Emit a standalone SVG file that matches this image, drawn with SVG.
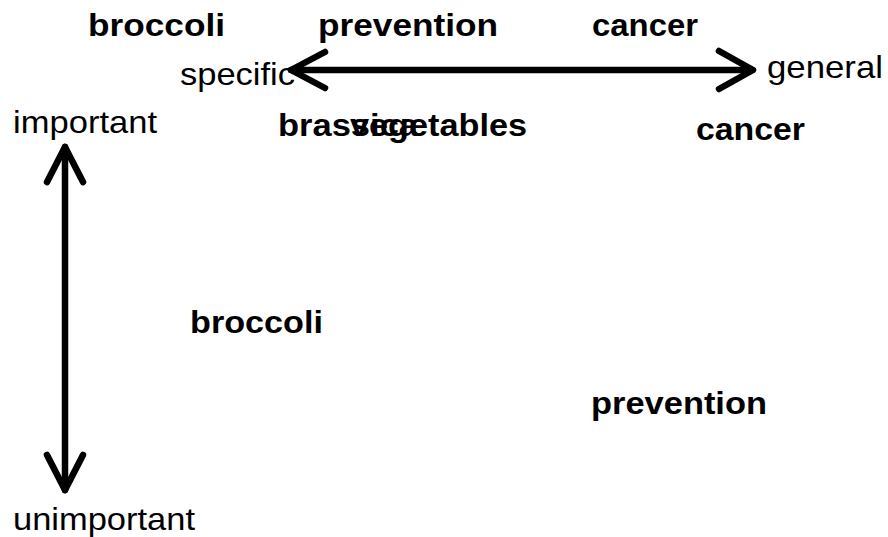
<svg xmlns="http://www.w3.org/2000/svg" width="888" height="537" viewBox="0 0 888 537">
  <style>
    .term { font-family: "Liberation Sans", Arial, sans-serif; font-size: 32px; font-weight: bold; fill: #000; }
    .axis { font-family: "Liberation Sans", Arial, sans-serif; font-size: 32px; fill: #000; }
    .arrow { fill: none; stroke: #000; stroke-width: 6.5; stroke-linecap: round; stroke-linejoin: round; }
  </style>
  <rect width="888" height="537" fill="#fff"/>

  <!-- axes -->
  <g id="connectors">
    <!-- specificity axis -->
    <path class="arrow" d="M291,70 H752"/>
    <path class="arrow" d="M325,52 L291,70 L325,88"/>
    <path class="arrow" d="M719,51 L753,70 L719,89"/>
    <!-- importance axis -->
    <path class="arrow" d="M65,147 V490"/>
    <path class="arrow" d="M47,182 L65,147 L83,182"/>
    <path class="arrow" d="M47,455 L65,490 L83,455"/>
  </g>

  <!-- axis labels -->
  <g id="label-specific"><text class="axis" x="180" y="85" textLength="115" lengthAdjust="spacingAndGlyphs">specific</text></g>
  <g id="label-general"><text class="axis" x="767" y="78" textLength="116" lengthAdjust="spacingAndGlyphs">general</text></g>
  <g id="label-important"><text class="axis" x="13" y="133" textLength="144" lengthAdjust="spacingAndGlyphs">important</text></g>
  <g id="label-unimportant"><text class="axis" x="13" y="530" textLength="182" lengthAdjust="spacingAndGlyphs">unimportant</text></g>

  <!-- terms along the specificity axis -->
  <g id="term-broccoli-top"><text class="term" x="88" y="36" textLength="137" lengthAdjust="spacingAndGlyphs">broccoli</text></g>
  <g id="term-prevention-top"><text class="term" x="318" y="36" textLength="180" lengthAdjust="spacingAndGlyphs">prevention</text></g>
  <g id="term-cancer-top"><text class="term" x="592" y="36" textLength="106" lengthAdjust="spacingAndGlyphs">cancer</text></g>

  <g id="term-brassica"><text class="term" x="278" y="136" textLength="140" lengthAdjust="spacingAndGlyphs">brassica</text></g>
  <g id="term-vegetables"><text class="term" x="350" y="136" textLength="177" lengthAdjust="spacingAndGlyphs">vegetables</text></g>
  <g id="term-cancer"><text class="term" x="696" y="140" textLength="109" lengthAdjust="spacingAndGlyphs">cancer</text></g>

  <!-- terms along the importance axis -->
  <g id="term-broccoli"><text class="term" x="190" y="333" textLength="133" lengthAdjust="spacingAndGlyphs">broccoli</text></g>
  <g id="term-prevention"><text class="term" x="591" y="414" textLength="176" lengthAdjust="spacingAndGlyphs">prevention</text></g>
</svg>
